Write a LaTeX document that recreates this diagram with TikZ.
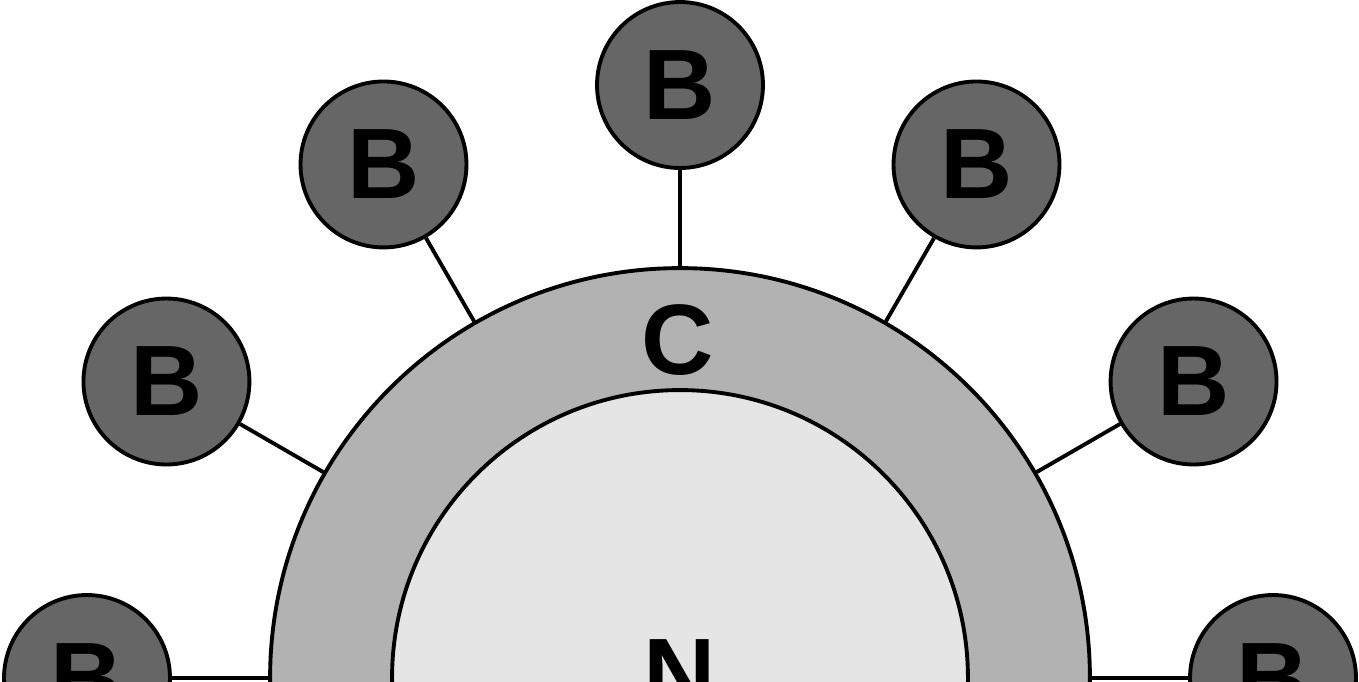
\documentclass[tikz,border=0pt]{standalone}
\usepackage{fontspec}
\setmainfont{Liberation Sans}
\usetikzlibrary{calc}
\begin{document}
\begin{tikzpicture}[x=0.02cm,y=-0.02cm,line width=2.2pt,
  lbl/.style={font=\fontsize{57}{57}\selectfont\bfseries},
  bball/.style={circle,draw=black,fill=black!60,minimum size=3.32cm,inner sep=0pt,lbl},
  link/.style={draw=black,line width=2.2pt}]
\useasboundingbox (0,0) rectangle (1359,681);
\clip (0,0) rectangle (1359,681);
\node[circle,draw=black,fill=black!30,minimum size=16.4cm,inner sep=0pt] (outer) at (680,678) {};
\node[circle,draw=black,fill=black!10,minimum size=11.52cm,inner sep=0pt] (inner) at (680,678) {};
\node[lbl] (c) at (678,340) {C};
\node[lbl] (n) at (680,674) {N};
\foreach \a/\nm in {0/b0,30/b30,60/b60,90/b90,120/b120,150/b150,180/b180}{
  \node[bball] (\nm) at ($(680,678)+({593*cos(\a)},{-593*sin(\a)})$) {B};
  \draw[link] (outer) -- (\nm);
}
\end{tikzpicture}
\end{document}
